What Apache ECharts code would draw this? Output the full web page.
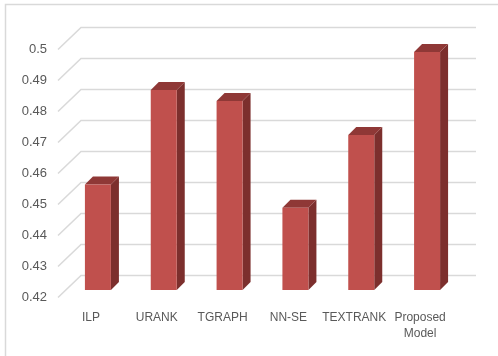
<!DOCTYPE html>
<html>
<head>
<meta charset="utf-8">
<script src="https://cdn.jsdelivr.net/npm/echarts@6/dist/echarts.min.js"></script>
<style>html,body{margin:0;padding:0;background:#fff;}#c{width:498px;height:356px;}</style>
</head>
<body>
<div id="c"></div>
<script>
var categories = ['ILP', 'URANK', 'TGRAPH', 'NN-SE', 'TEXTRANK', 'Proposed\nModel'];
var values = [0.454, 0.4845, 0.481, 0.4465, 0.470, 0.4968];
var yTicks = [0.42, 0.43, 0.44, 0.45, 0.46, 0.47, 0.48, 0.49, 0.5];

var chart = echarts.init(document.getElementById('c'), null, {renderer: 'canvas'});
var DX = 23, DY = 22;      // wall depth
var BDX = 7, BDY = 7;      // bar plane offset
var BW = 26, BD = 8;       // bar width, bar depth

chart.setOption({
  animation: false,
  backgroundColor: '#fff',
  graphic: [{
    type: 'polyline', shape: {points: [[5.5, 400], [5.5, 4.5], [600, 4.5]]},
    style: {stroke: '#D9D9D9', lineWidth: 1.5, fill: null}, silent: true
  }],
  grid: {left: 58, right: 45, top: 49, bottom: 59},
  xAxis: {
    type: 'category', data: categories,
    axisLine: {show: false}, axisTick: {show: false},
    axisLabel: {interval: 0, hideOverlap: false, color: '#595959', fontSize: 12, margin: 13, lineHeight: 16,
      fontFamily: 'Liberation Sans Narrow, Liberation Sans, sans-serif'}
  },
  yAxis: {
    type: 'value', min: 0.42, max: 0.5, interval: 0.01,
    axisLine: {show: false}, axisTick: {show: false}, splitLine: {show: false},
    axisLabel: {color: '#595959', fontSize: 13, margin: 11, fontFamily: 'Liberation Sans Narrow, Liberation Sans, sans-serif',
      formatter: function (v) { return String(Math.round(v * 100) / 100); }}
  },
  series: [{
    type: 'custom', silent: true, z: 1,
    data: yTicks.map(function (v) { return [0, v]; }),
    renderItem: function (params, api) {
      var cs = params.coordSys;
      var p = api.coord([0, api.value(1)]);
      var y = Math.round(p[1]) + 0.5;
      return {
        type: 'polyline',
        shape: {points: [[cs.x, y], [cs.x + DX, y - DY], [cs.x + cs.width + DX, y - DY]]},
        style: {stroke: '#D9D9D9', lineWidth: 1.5, fill: null}
      };
    }
  }, {
    type: 'custom', silent: true, z: 2,
    data: values.map(function (v, i) { return [i, v]; }),
    renderItem: function (params, api) {
      var top = api.coord([api.value(0), api.value(1)]);
      var base = api.coord([api.value(0), 0.42]);
      var cx = top[0] + BDX;
      var l = cx - BW / 2, r = cx + BW / 2;
      var t = top[1] - BDY, b = base[1] - BDY;
      return {
        type: 'group',
        children: [
          {type: 'polygon', shape: {points: [[r, t], [r + BD, t - BD], [r + BD, b - BD], [r, b]]},
            style: {fill: '#7C2F2D'}},
          {type: 'polygon', shape: {points: [[l, t], [l + BD, t - BD], [r + BD, t - BD], [r, t]]},
            style: {fill: '#8F3836'}},
          {type: 'rect', shape: {x: l, y: t, width: BW, height: b - t},
            style: {fill: '#C0504D'}}
        ]
      };
    }
  }]
});
</script>
</body>
</html>
